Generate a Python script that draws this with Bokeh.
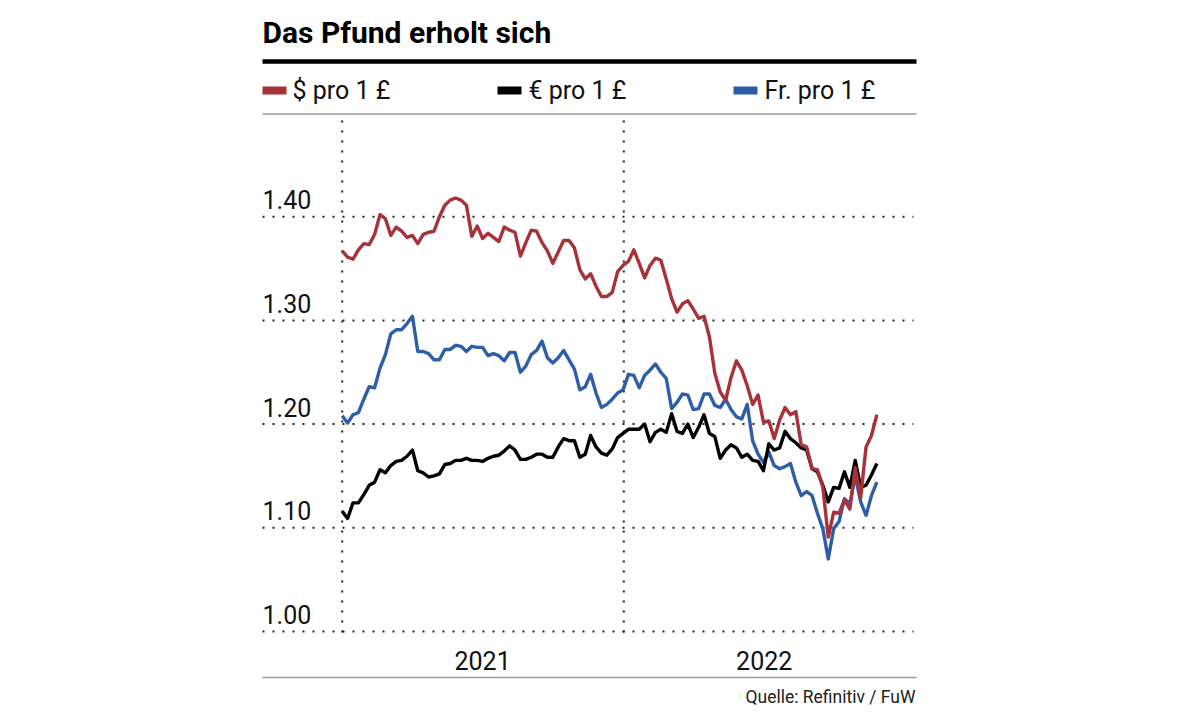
import numpy as np
import pandas as pd
from bokeh.plotting import figure
from bokeh.models import Range1d
from bokeh.core.properties import value
from bokeh.embed import file_html
from bokeh.resources import INLINE

# ---------------- data ----------------
title_text = "Das Pfund erholt sich"
series_names = ["$ pro 1 £", "€ pro 1 £", "Fr. pro 1 £"]
series_colors = ["#A8323A", "#000000", "#2F5EA8"]

usd = [1.367, 1.361, 1.359, 1.368, 1.374, 1.373, 1.383, 1.402, 1.398, 1.382, 1.390, 1.386, 1.380,
       1.382, 1.374, 1.383, 1.385, 1.386, 1.400, 1.411, 1.416, 1.418, 1.416, 1.411, 1.381, 1.391,
       1.379, 1.384, 1.380, 1.376, 1.390, 1.387, 1.385, 1.362, 1.375, 1.387, 1.386, 1.375, 1.367,
       1.355, 1.366, 1.377, 1.377, 1.370, 1.349, 1.340, 1.345, 1.333, 1.323, 1.323, 1.327, 1.347,
       1.353, 1.357, 1.368, 1.355, 1.341, 1.353, 1.360, 1.358, 1.340, 1.321, 1.308, 1.316, 1.319,
       1.311, 1.302, 1.304, 1.284, 1.249, 1.231, 1.223, 1.245, 1.261, 1.252, 1.237, 1.219, 1.228,
       1.202, 1.203, 1.186, 1.204, 1.216, 1.209, 1.212, 1.180, 1.178, 1.157, 1.156, 1.139, 1.091,
       1.115, 1.114, 1.127, 1.118, 1.158, 1.129, 1.178, 1.189, 1.209]

eur = [1.116, 1.109, 1.124, 1.124, 1.132, 1.141, 1.144, 1.156, 1.153, 1.160, 1.164, 1.165, 1.169,
       1.175, 1.155, 1.153, 1.149, 1.150, 1.152, 1.161, 1.162, 1.165, 1.165, 1.167, 1.165, 1.165,
       1.164, 1.167, 1.169, 1.170, 1.174, 1.179, 1.175, 1.166, 1.166, 1.168, 1.171, 1.171, 1.168,
       1.168, 1.178, 1.186, 1.184, 1.184, 1.168, 1.171, 1.189, 1.178, 1.172, 1.170, 1.176, 1.187,
       1.191, 1.195, 1.195, 1.195, 1.200, 1.183, 1.192, 1.195, 1.192, 1.210, 1.193, 1.191, 1.200,
       1.187, 1.197, 1.209, 1.191, 1.188, 1.167, 1.175, 1.180, 1.177, 1.168, 1.171, 1.165, 1.164,
       1.155, 1.181, 1.175, 1.177, 1.193, 1.186, 1.182, 1.177, 1.175, 1.157, 1.154, 1.141, 1.125,
       1.139, 1.138, 1.154, 1.139, 1.165, 1.139, 1.141, 1.151, 1.162]

chf = [1.208, 1.201, 1.209, 1.211, 1.224, 1.236, 1.235, 1.254, 1.267, 1.287, 1.291, 1.291, 1.297,
       1.304, 1.270, 1.270, 1.268, 1.262, 1.262, 1.272, 1.272, 1.276, 1.275, 1.270, 1.275, 1.274,
       1.274, 1.266, 1.268, 1.266, 1.261, 1.269, 1.269, 1.250, 1.256, 1.267, 1.271, 1.280, 1.264,
       1.259, 1.264, 1.271, 1.262, 1.253, 1.233, 1.236, 1.248, 1.230, 1.216, 1.219, 1.224, 1.230,
       1.233, 1.248, 1.247, 1.235, 1.247, 1.252, 1.258, 1.250, 1.244, 1.215, 1.221, 1.229, 1.228,
       1.214, 1.215, 1.229, 1.229, 1.218, 1.216, 1.224, 1.214, 1.207, 1.205, 1.219, 1.184, 1.171,
       1.163, 1.173, 1.160, 1.157, 1.159, 1.162, 1.144, 1.131, 1.135, 1.131, 1.114, 1.099, 1.070,
       1.099, 1.106, 1.128, 1.123, 1.150, 1.125, 1.112, 1.131, 1.144]

first_week = "2021-01-01"
y_ticks = [1.00, 1.10, 1.20, 1.30, 1.40]
y_tick_labels = ["1.00", "1.10", "1.20", "1.30", "1.40"]
year_labels = ["2021", "2022"]
year_starts = ["2021-01-01", "2022-01-01"]
year_mids = ["2021-07-02", "2022-07-02"]
source_text = "Quelle: Refinitiv / FuW"

# ---------------- layout ----------------
W, H = 1179, 713
OFF = 0
X0_PAGE = 341.7            # page x of 2021-01-01
PX_PER_DAY = 281.6 / 365.0
Y1_PAGE = 631.0            # page y of 1.00
PX_PER_UNIT = 1037.0
DAY_MS = 86400000.0

def ms(d):
    return pd.Timestamp(d).value / 1e6

T0 = ms("2021-01-01")

def dx(page_x):
    return T0 + (page_x - X0_PAGE) / PX_PER_DAY * DAY_MS

def dy(page_y):
    return 1.0 + (Y1_PAGE - page_y) / PX_PER_UNIT

FONT = "Roboto"
DOTS = value("2 8")

dates = pd.date_range(first_week, periods=len(usd), freq="7D")
x_ms = [ms(d) for d in dates]

p = figure(width=W, height=H,
           x_range=Range1d(dx(OFF), dx(OFF + W)),
           y_range=Range1d(dy(OFF + H), dy(OFF)),
           x_axis_type=None, y_axis_type=None,
           toolbar_location=None, output_backend="svg",
           min_border=0, outline_line_color=None,
           background_fill_color="white", border_fill_color="white")

# horizontal dotted gridlines
p.segment(x0=[dx(262)] * len(y_ticks), x1=[dx(913)] * len(y_ticks),
          y0=y_ticks, y1=y_ticks, line_color="#222222", line_width=2,
          line_dash=DOTS)
# vertical dotted year lines
ys_ms = [ms(d) for d in year_starts]
p.segment(x0=ys_ms, x1=ys_ms, y0=[dy(632)] * 2, y1=[dy(118)] * 2,
          line_color="#222222", line_width=2, line_dash=DOTS)

# y tick labels inside plot (sit above their gridline)
p.text(x=[dx(262)] * len(y_ticks), y=[t + 17 / PX_PER_UNIT for t in y_ticks], text=y_tick_labels,
       text_font=value(FONT), text_font_size="25px", text_color="#111111",
       text_align="left", text_baseline="alphabetic")

# series lines
for vals, col in [(chf, series_colors[2]), (eur, series_colors[1]), (usd, series_colors[0])]:
    p.line(x=x_ms, y=vals, line_color=col, line_width=3.4, line_join="round")

# year labels
p.text(x=[ms(d) for d in year_mids], y=[dy(660)] * 2, text=year_labels,
       text_font=value(FONT), text_font_size="25px", text_color="#111111",
       text_align="center", text_baseline="alphabetic")

# title
p.text(x=[dx(262)], y=[dy(32)], text=[title_text], text_font=value(FONT),
       text_font_style="bold", text_font_size="30px", text_color="#000000",
       text_align="left", text_baseline="alphabetic")

# rules
p.segment(x0=[dx(262)], x1=[dx(916)], y0=[dy(61)], y1=[dy(61)], line_color="#000000", line_width=4.5)
p.segment(x0=[dx(262), dx(262)], x1=[dx(916), dx(916)], y0=[dy(113.5), dy(677)], y1=[dy(113.5), dy(677)],
          line_color="#9a9a9a", line_width=1.6)

# legend
sw_x0 = [262, 497, 733]
tx_x = [292, 528, 764]
p.segment(x0=[dx(a) for a in sw_x0], x1=[dx(a + 24) for a in sw_x0], y0=[dy(90)] * 3, y1=[dy(90)] * 3,
          line_color=series_colors, line_width=8)
p.text(x=[dx(a) for a in tx_x], y=[dy(90)] * 3, text=series_names,
       text_font=value(FONT), text_font_size="25px", text_color="#111111",
       text_align="left", text_baseline="alphabetic")

# source
p.text(x=[dx(915)], y=[dy(696)], text=[source_text], text_font=value(FONT),
       text_font_size="17.5px", text_color="#222222", text_align="right", text_baseline="alphabetic")

open("out.html", "w").write(file_html(p, INLINE))
